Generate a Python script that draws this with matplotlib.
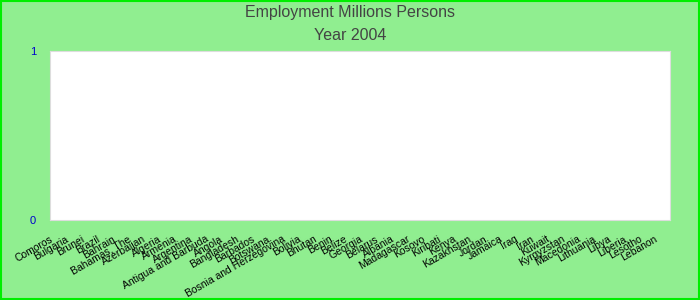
import matplotlib
matplotlib.use('Agg')
import matplotlib.pyplot as plt
import matplotlib.transforms as mtransforms
import numpy as np

plt.rcParams['font.family'] = ['Liberation Sans', 'DejaVu Sans']

# Datos
paises = ['Comoros', 'Bulgaria', 'Brunei', 'Brazil', 'Bahrain', 'Bahamas, The',
          'Azerbaijan', 'Algeria', 'Armenia', 'Argentina', 'Antigua and Barbuda',
          'Angola', 'Bangladesh', 'Barbados', 'Botswana', 'Bosnia and Herzegovina',
          'Bolivia', 'Bhutan', 'Benin', 'Belize', 'Georgia', 'Belarus', 'Albania',
          'Madagascar', 'Kosovo', 'Kiribati', 'Kenya', 'Kazakhstan', 'Jordan',
          'Jamaica', 'Iraq', 'Iran', 'Kuwait', 'Kyrgyzstan', 'Macedonia',
          'Lithuania', 'Libya', 'Liberia', 'Lesotho', 'Lebanon']
empleo = [0] * len(paises)
y_ticks = [0, 1]

fig = plt.figure(figsize=(7, 3), dpi=100, facecolor='#90EE90')
ax = fig.add_axes([50 / 700, 1 - 220 / 300, 620 / 700, 169 / 300])
ax.set_facecolor('white')

x = np.arange(len(paises))
ax.bar(x, empleo, width=0.6, color='#4F81BD')
ax.set_xlim(-0.5, len(paises) - 0.5)
ax.set_ylim(0, 1)
ax.set_yticks(y_ticks)
ax.set_yticklabels([str(v) for v in y_ticks], color='#0000CC', fontsize=8)
ax.set_xticks(x)
ax.set_xticklabels(paises, rotation=30, ha='right', rotation_mode='anchor', fontsize=7.5)
ax.tick_params(axis='y', length=0, pad=10)
ax.tick_params(axis='x', length=0, pad=10)
desplazar = mtransforms.ScaledTranslation(-8 / 100, 0, fig.dpi_scale_trans)
for lbl in ax.get_xticklabels():
    lbl.set_transform(lbl.get_transform() + desplazar)
for s in ax.spines.values():
    s.set_color('#DDDDDD')

fig.text(0.5, 1 - 13 / 300, 'Employment Millions Persons', ha='center', va='center',
         fontsize=11.5, color='#444444')
fig.text(0.5, 1 - 36 / 300, 'Year 2004', ha='center', va='center',
         fontsize=11.5, color='#444444')

# borde verde
fig.patches.append(plt.Rectangle((0.001, 0.002), 0.997, 0.995, transform=fig.transFigure,
                                 fill=False, edgecolor='#00EE00', linewidth=1.5))

fig.savefig('out.png', dpi=100, facecolor=fig.get_facecolor())
